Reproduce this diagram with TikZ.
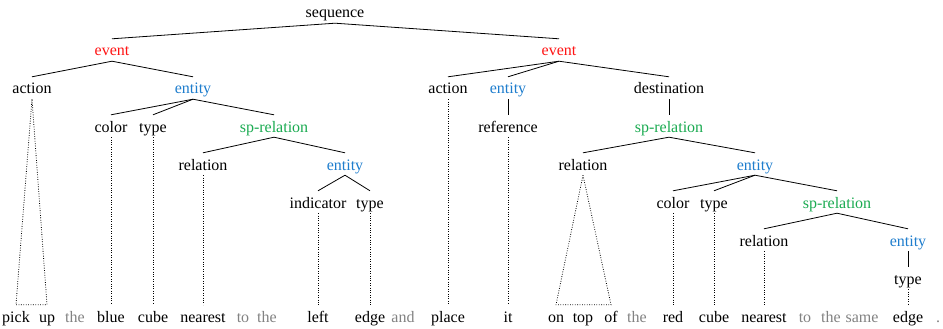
\documentclass[tikz,border=0pt]{standalone}
\usepackage{fontspec}
\newfontfamily\treefont{Liberation Serif}
\usetikzlibrary{positioning}

\definecolor{evcol}{RGB}{255,20,20}
\definecolor{entcol}{RGB}{30,125,205}
\definecolor{relcol}{RGB}{25,170,80}
\definecolor{fillcol}{RGB}{130,130,130}

\begin{document}
\begin{tikzpicture}[
x=1pt,y=-1pt,
tag/.style={
  anchor=base,
  inner sep=2pt,
  text height=15pt,
  text depth=3pt,
  font=\treefont\fontsize{16}{19}\selectfont
  },
event/.style={tag,text=evcol},
entity/.style={tag,text=entcol},
sprel/.style={tag,text=relcol},
word/.style={tag},
filler/.style={tag,text=fillcol},
branch/.style={line width=0.8pt},
leaf/.style={line width=0.8pt,dash pattern=on 0.8pt off 1.6pt}
]
\useasboundingbox (0,0) rectangle (943,329);

% tree
\node[tag]    (seq)  at (335,18)  {sequence};
\node[event]  (ev1)  at (112,56)  {event};
\node[event]  (ev2)  at (559,56)  {event};
\node[tag]    (act1) at (32,94)   {action};
\node[entity] (ent1) at (193,94)  {entity};
\node[tag]    (act2) at (448,94)  {action};
\node[entity] (ent2) at (508,94)  {entity};
\node[tag]    (dest) at (669,94)  {destination};
\node[tag]    (col1) at (111,132) {color};
\node[tag]    (typ1) at (153,132) {type};
\node[sprel]  (spr1) at (274,132) {sp-relation};
\node[tag]    (ref)  at (508,132) {reference};
\node[sprel]  (spr2) at (669,132) {sp-relation};
\node[tag]    (rel1) at (203,170) {relation};
\node[entity] (ent3) at (345,170) {entity};
\node[tag]    (rel2) at (583,170) {relation};
\node[entity] (ent4) at (755,170) {entity};
\node[tag]    (ind)  at (318,208) {indicator};
\node[tag]    (typ3) at (370,208) {type};
\node[tag]    (col2) at (673,208) {color};
\node[tag]    (typ2) at (714,208) {type};
\node[sprel]  (spr3) at (837,208) {sp-relation};
\node[tag]    (rel3) at (764,246) {relation};
\node[entity] (ent5) at (908,246) {entity};
\node[tag]    (typ4) at (908,284) {type};

% sentence
\foreach \n/\x/\t in {pick/16/pick, up/47/up, blue/111/blue, cube/153/cube,
  near/203/nearest, left/318/left, edge/370/edge, place/448/place, it/508/it,
  on/556/on, top/583/top, of/611/of, red/673/red, cubeb/714/cube,
  nearb/764/nearest, edgeb/908/edge}
  \node[word] (\n) at (\x,322) {\t};
\foreach \x/\t [count=\i] in {75/the, 243/to, 267/the, 403/and, 637/the,
  805/to, 831/the, 862/same, 938/.}
  \node[filler] (f\i) at (\x,322) {\t};

% branches
\foreach \p/\c in {seq/ev1, seq/ev2, ev1/act1, ev1/ent1, ent1/col1, ent1/typ1,
  ent1/spr1, spr1/rel1, spr1/ent3, ent3/ind, ent3/typ3, ev2/act2, ev2/ent2,
  ev2/dest, ent2/ref, dest/spr2, spr2/rel2, spr2/ent4, ent4/col2, ent4/typ2,
  ent4/spr3, spr3/rel3, spr3/ent5, ent5/typ4}
  \draw[branch] (\p.south) -- (\c.north);

% leaves
\foreach \p/\c in {col1/blue, typ1/cube, rel1/near, ind/left, typ3/edge,
  act2/place, ref/it, col2/red, typ2/cubeb, rel3/nearb, typ4/edgeb}
  \draw[leaf] (\p.south) -- (\c.north);
\draw[leaf] (act1.south) -- (pick.north) -- (up.north) -- cycle;
\draw[leaf] (rel2.south) -- (on.north) -- (of.north) -- cycle;

\end{tikzpicture}
\end{document}
